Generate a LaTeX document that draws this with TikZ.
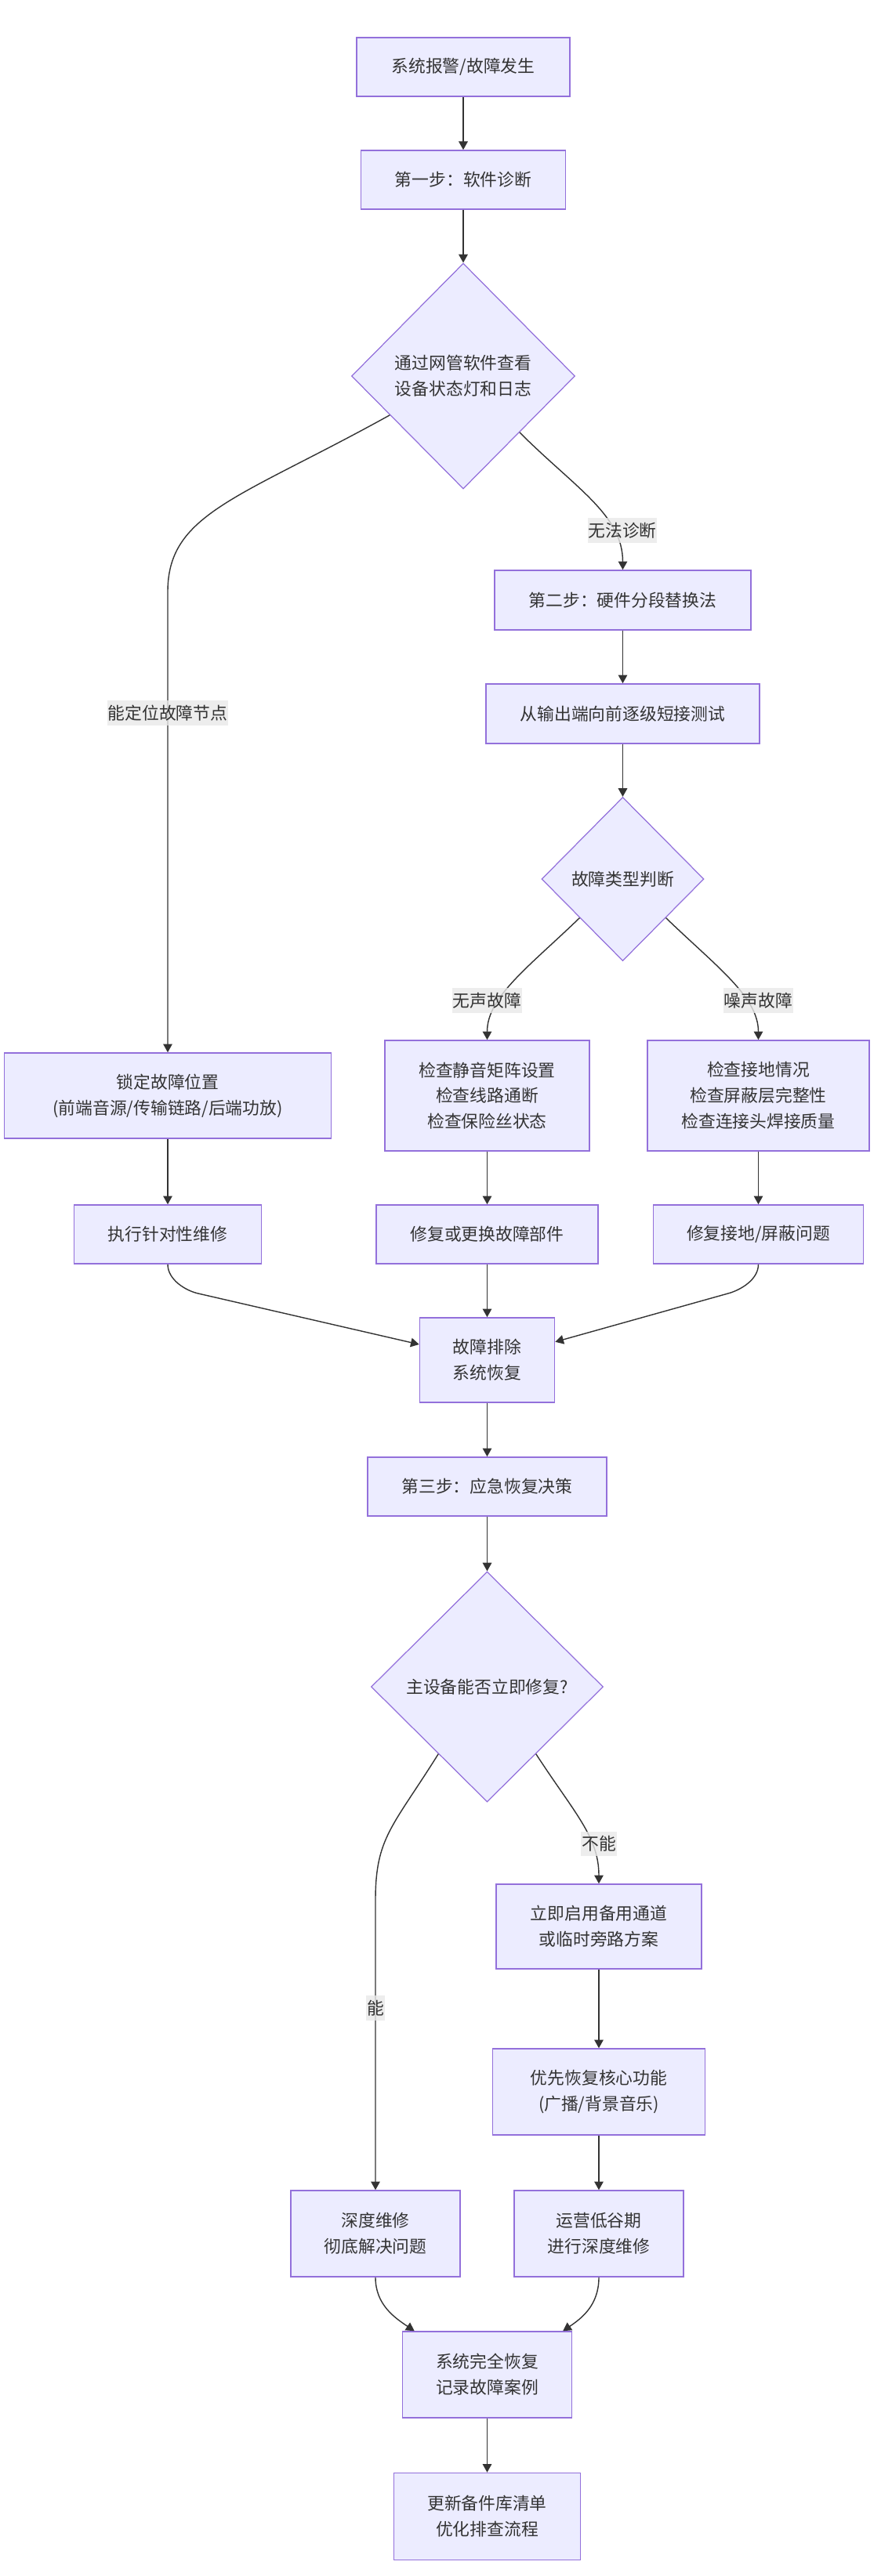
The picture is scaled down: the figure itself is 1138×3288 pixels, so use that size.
\documentclass[tikz,border=0pt]{standalone}
\usepackage{fontspec}
\setmainfont{Noto Sans CJK SC}
\usetikzlibrary{shapes.geometric,arrows.meta,calc}
\definecolor{nodefill}{HTML}{ECECFF}
\definecolor{nodeline}{HTML}{9370DB}
\definecolor{edgeline}{HTML}{333333}
\definecolor{lblfill}{HTML}{E8E8E8}
\begin{document}
\begin{tikzpicture}[x=0.02cm,y=0.02cm]
	\tikzstyle{every node}+=[text=edgeline,font=\fontsize{12.4}{18.7}\selectfont,align=center]
	\tikzstyle{box}=[draw=nodeline,fill=nodefill,line width=0.9pt,rectangle,inner sep=0pt]
	\tikzstyle{dia}=[draw=nodeline,fill=nodefill,line width=0.7pt,diamond,inner sep=0pt]
	\tikzstyle{arr}=[draw=edgeline,line width=0.8pt,-{Triangle[length=6.1pt,width=6.6pt]}]
	\tikzstyle{lbl}=[fill=lblfill,fill opacity=0.8,text opacity=1,inner xsep=0.5pt,inner ysep=3.2pt]
	\useasboundingbox (0,0) rectangle (1138,-3288);
	\node [box,minimum width=5.44cm,minimum height=1.5cm] (alarm) at (591,-85.5) {系统报警/故障发生};
	\node [box,minimum width=5.22cm,minimum height=1.5cm] (soft) at (591,-229.5) {第一步：软件诊断};
	\node [dia,minimum width=5.7cm,minimum height=5.76cm] (chk) at (591,-480) {通过网管软件查看\\设备状态灯和日志};
	\node [box,minimum width=8.34cm,minimum height=2.18cm] (lock) at (214,-1398.5) {锁定故障位置\\(前端音源/传输链路/后端功放)};
	\node [box,minimum width=4.78cm,minimum height=1.5cm] (fix) at (214,-1575.5) {执行针对性维修};
	\node [box,minimum width=6.54cm,minimum height=1.52cm] (hard) at (794.5,-766) {第二步：硬件分段替换法};
	\node [box,minimum width=6.98cm,minimum height=1.52cm] (short) at (794.5,-911) {从输出端向前逐级短接测试};
	\node [dia,minimum width=4.14cm,minimum height=4.18cm] (kind) at (794.5,-1122) {故障类型判断};
	\node [box,minimum width=5.22cm,minimum height=2.82cm] (mute) at (621.5,-1398.5) {检查静音矩阵设置\\检查线路通断\\检查保险丝状态};
	\node [box,minimum width=5.66cm,minimum height=2.82cm] (noise) at (967.5,-1398.5) {检查接地情况\\检查屏蔽层完整性\\检查连接头焊接质量};
	\node [box,minimum width=5.66cm,minimum height=1.5cm] (part) at (621.5,-1575.5) {修复或更换故障部件};
	\node [box,minimum width=5.36cm,minimum height=1.5cm] (gnd) at (967.5,-1575.5) {修复接地/屏蔽问题};
	\node [box,minimum width=3.44cm,minimum height=2.16cm] (done) at (621.5,-1736) {故障排除\\系统恢复};
	\node [box,minimum width=6.1cm,minimum height=1.5cm] (step3) at (621.5,-1897.5) {第三步：应急恢复决策};
	\node [dia,minimum width=5.92cm,minimum height=5.88cm] (main) at (621.5,-2153) {主设备能否立即修复?};
	\node [box,minimum width=5.23cm,minimum height=2.16cm] (backup) at (764,-2459) {立即启用备用通道\\或临时旁路方案};
	\node [box,minimum width=5.42cm,minimum height=2.2cm] (core) at (764,-2670) {优先恢复核心功能\\(广播/背景音乐)};
	\node [box,minimum width=4.32cm,minimum height=2.2cm] (deep) at (479,-2851) {深度维修\\彻底解决问题};
	\node [box,minimum width=4.32cm,minimum height=2.2cm] (low) at (764,-2851) {运营低谷期\\进行深度维修};
	\node [box,minimum width=4.32cm,minimum height=2.2cm] (full) at (621.5,-3031) {系统完全恢复\\记录故障案例};
	\node [box,minimum width=4.76cm,minimum height=2.22cm] (upd) at (621.5,-3212) {更新备件库清单\\优化排查流程};
	\draw [arr] (alarm) -- (soft);
	\draw [arr] (soft) -- (chk);
	\draw [arr] (chk.208) .. controls +(209:4.4cm) and +(90:2cm) .. ($(lock.north)+(0,588)$) -- (lock.north);
	\draw [arr] (chk.-45) .. controls +(-45:2cm) and +(90:1.4cm) .. (hard.north);
	\draw [arr] (hard) -- (short);
	\draw [arr] (short) -- (kind);
	\draw [arr] (kind.222) .. controls +(224:1.8cm) and +(90:1.1cm) .. (mute.north);
	\draw [arr] (kind.-42) .. controls +(-44:1.8cm) and +(90:1.1cm) .. (noise.north);
	\draw [arr] (lock) -- (fix);
	\draw [arr] (mute) -- (part);
	\draw [arr] (noise) -- (gnd);
	\draw [arr] (fix.south) .. controls +(0,-20) and +(166.7:0.3cm) .. ($(fix.south)+(38,-37)$) -- (done.167.5);
	\draw [arr] (gnd.south) .. controls +(0,-20) and +(15.6:0.3cm) .. ($(gnd.south)+(-38,-37)$) -- (done.15.6);
	\draw [arr] (part) -- (done);
	\draw [arr] (done) -- (step3);
	\draw [arr] (step3) -- (main);
	\draw [arr] (main.234) .. controls +(238:2.2cm) and +(90:1.6cm) .. ($(deep.north)+(0,370)$) -- (deep.north);
	\draw [arr] (main.-54) .. controls +(-57:1.8cm) and +(90:1.2cm) .. (backup.north);
	\draw [arr] (backup) -- (core);
	\draw [arr] (core) -- (low);
	\draw [arr] (deep.south) .. controls +(0,-35) and +(146:0.6cm) .. (full.149.5);
	\draw [arr] (low.south) .. controls +(0,-35) and +(34:0.6cm) .. (full.30.5);
	\draw [arr] (full) -- (upd);
	\node [lbl] (lbloc) at (214,-910) {能定位故障节点};
	\node [lbl] (lbno) at (794,-677) {无法诊断};
	\node [lbl] (lbmute) at (621.5,-1277) {无声故障};
	\node [lbl] (lbnoise) at (967.5,-1277) {噪声故障};
	\node [lbl] (lbyes) at (479,-2563) {能};
	\node [lbl] (lbnot) at (764,-2353.5) {不能};
\end{tikzpicture}
\end{document}
